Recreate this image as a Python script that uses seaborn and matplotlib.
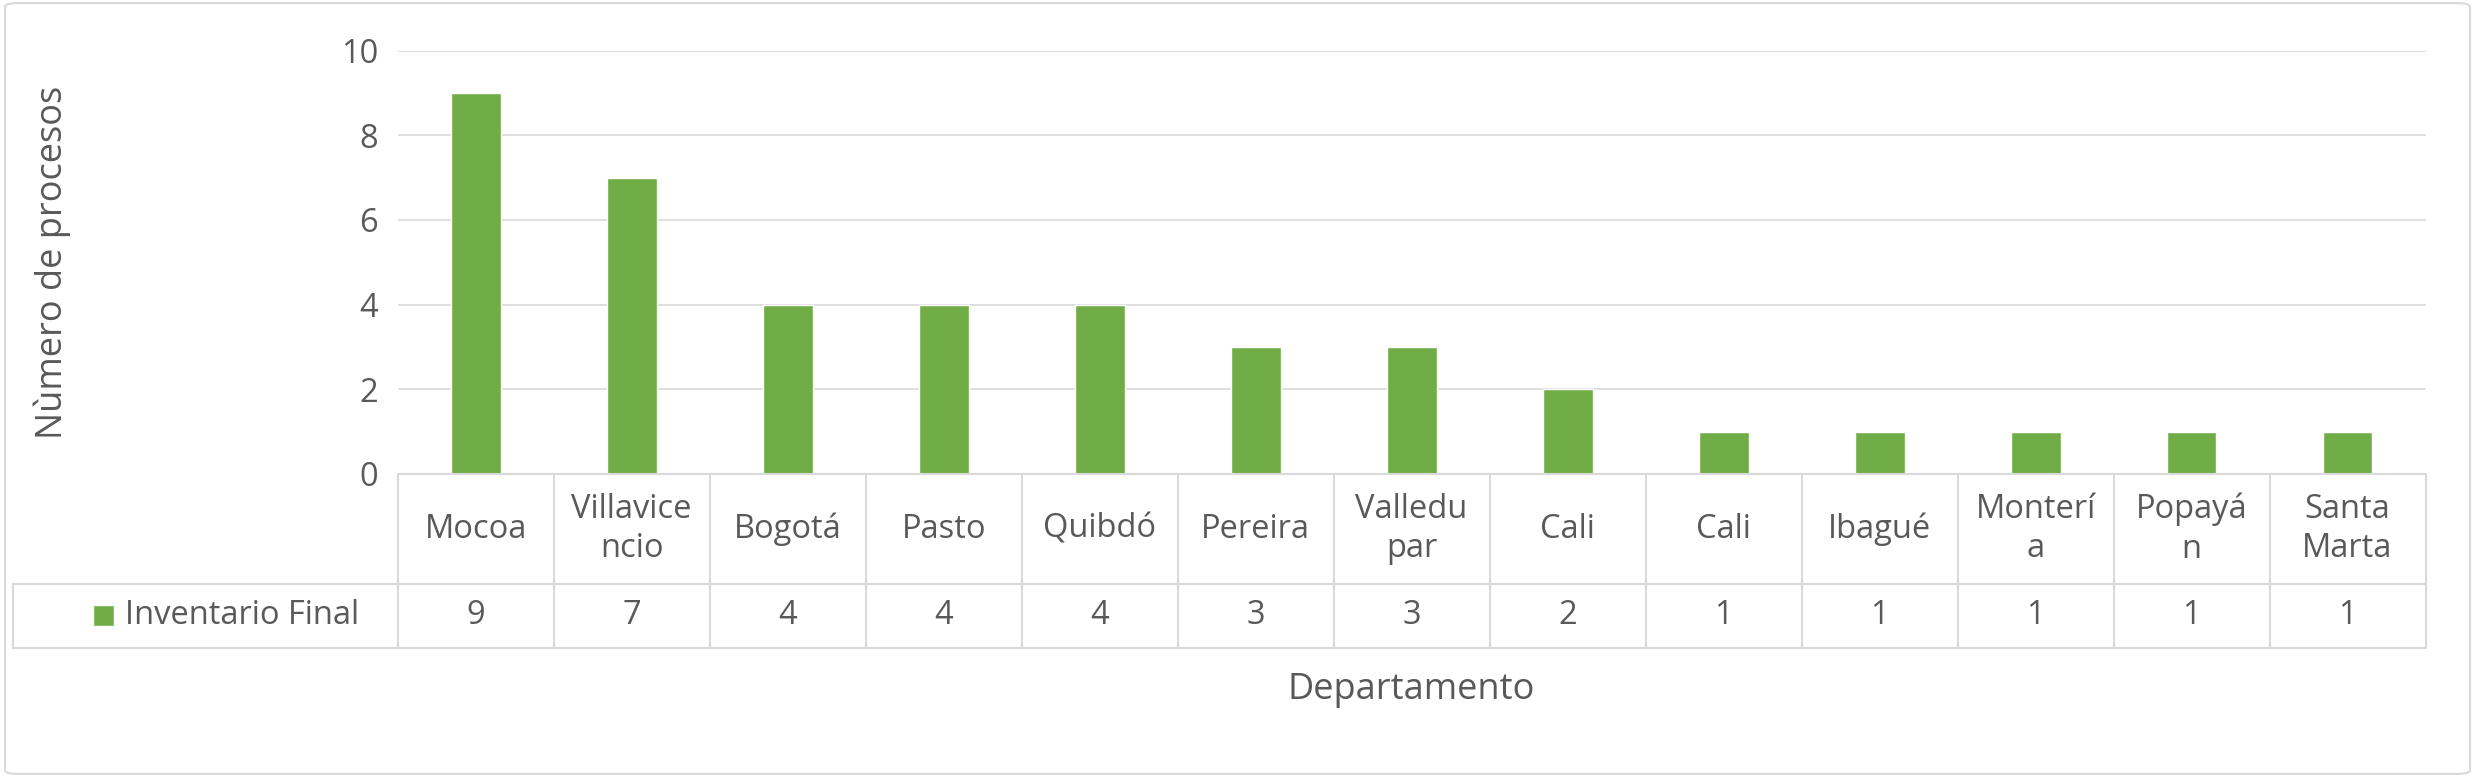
import matplotlib
matplotlib.use("Agg")
import matplotlib.pyplot as plt
from matplotlib.patches import Rectangle, FancyBboxPatch
from matplotlib.lines import Line2D
import pandas as pd
import seaborn as sns

CATEGORIES = ["Mocoa", "Villavice\nncio", "Bogotá", "Pasto", "Quibdó", "Pereira", "Valledu\npar",
              "Cali", "Cali ", "Ibagué", "Monterí\na", "Popayá\nn", "Santa\nMarta"]
VALUES = [9, 7, 4, 4, 4, 3, 3, 2, 1, 1, 1, 1, 1]
SERIES = "Inventario Final"

GREEN = "#70AD47"
TEXT = "#595959"
GRID = "#D9D9D9"
FS = 23.5

sns.set_theme(style="white")
plt.rcParams["font.family"] = ["Open Sans", "DejaVu Sans"]

fig = plt.figure(figsize=(24.75, 7.77), dpi=100)
L, R, B, T = 0.1607, 0.980, 0.390, 0.935
ax = fig.add_axes([L, B, R - L, T - B])

df = pd.DataFrame({"cat": CATEGORIES, "val": VALUES})
sns.barplot(data=df, x="cat", y="val", color=GREEN, saturation=1, width=0.32, ax=ax)
ax.set_xlim(-0.5, len(CATEGORIES) - 0.5)
ax.set_ylim(0, 10)
ax.set_yticks(range(0, 11, 2))
ax.yaxis.grid(True, color=GRID, linewidth=1.2)
ax.set_axisbelow(True)
for s in ax.spines.values():
    s.set_visible(False)
ax.set_xticks([])
ax.set_xlabel("")
ax.set_ylabel("Nùmero de procesos", fontsize=26, color=TEXT)
ax.yaxis.set_label_coords(-0.161, 0.5)
ax.tick_params(axis="y", labelsize=FS, labelcolor=TEXT, length=0, pad=14)

# data table
n = len(CATEGORIES)
y_mid = 1 - 370 / 492
y_bot = 1 - 410 / 492
x_left = 8 / 1568
w = (R - L) / n
lc = dict(color=GRID, linewidth=1.5, transform=fig.transFigure)
fig.add_artist(Line2D([L, R], [B, B], **lc))
fig.add_artist(Line2D([x_left, R], [y_mid, y_mid], **lc))
fig.add_artist(Line2D([x_left, R], [y_bot, y_bot], **lc))
fig.add_artist(Line2D([x_left, x_left], [y_mid, y_bot], **lc))
for i in range(n + 1):
    fig.add_artist(Line2D([L + i * w, L + i * w], [B, y_bot], **lc))
for i, (c, v) in enumerate(zip(CATEGORIES, VALUES)):
    xc = L + (i + 0.5) * w
    fig.text(xc, (B + y_mid) / 2, c.strip(), ha="center", va="center", fontsize=FS, color=TEXT, linespacing=1.25)
    fig.text(xc, (y_mid + y_bot) / 2, str(v), ha="center", va="center", fontsize=FS, color=TEXT)
fig.add_artist(Rectangle((0.0375, (y_mid + y_bot) / 2 - 0.013), 0.0085, 0.027,
                         facecolor=GREEN, transform=fig.transFigure))
fig.text(0.0505, (y_mid + y_bot) / 2, SERIES, ha="left", va="center", fontsize=FS, color=TEXT)
fig.text((L + R) / 2, 1 - 437 / 492, "Departamento", ha="center", va="center", fontsize=26, color=TEXT)

fig.add_artist(FancyBboxPatch((0.002, 0.004), 0.996, 0.992, boxstyle="round,pad=0,rounding_size=0.005",
                              facecolor="none", edgecolor=GRID, linewidth=1.5, transform=fig.transFigure))

fig.savefig("out.png", dpi=100)
